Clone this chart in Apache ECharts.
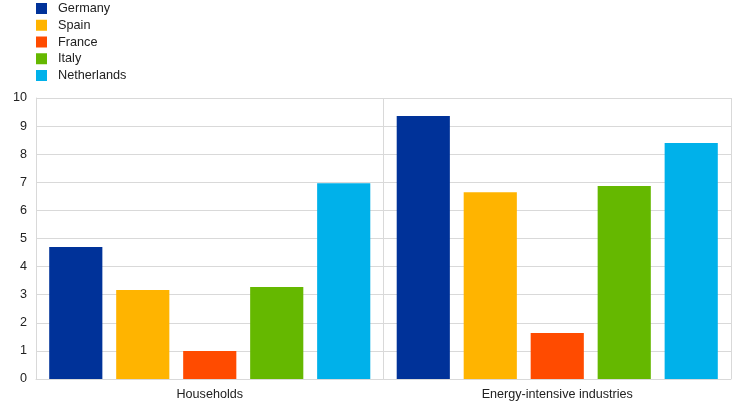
<!DOCTYPE html>
<html><head><meta charset="utf-8">
<script src="https://cdn.jsdelivr.net/npm/echarts@6/dist/echarts.min.js"></script>
<style>html,body{margin:0;padding:0;background:#fff}#c{width:744px;height:406px}</style>
</head><body><div id="c"></div>
<script>
const categories = ['Households', 'Energy-intensive industries'];
const seriesNames = ['Germany', 'Spain', 'France', 'Italy', 'Netherlands'];
const germany = [4.70, 9.36];
const spain = [3.17, 6.65];
const france = [1.00, 1.64];
const italy = [3.27, 6.87];
const netherlands = [6.97, 8.40];
const colors = ['#003299', '#ffb400', '#ff4b00', '#65b800', '#00b1ea'];
const values = [germany, spain, france, italy, netherlands];

const chart = echarts.init(document.getElementById('c'), null, {renderer: 'canvas'});
chart.setOption({
  animation: false,
  textStyle: {fontFamily: 'Liberation Sans, Arial, sans-serif'},
  legend: {
    orient: 'vertical', left: 36, top: 2, padding: 0, itemWidth: 11, itemHeight: 11, itemGap: 3.75,
    icon: 'rect', textStyle: {fontSize: 12.7, color: '#222', padding: [0,0,0,6]},
    data: seriesNames
  },
  grid: {left: 36, right: 13, top: 98, bottom: 27},
  xAxis: {
    type: 'category', data: categories, boundaryGap: true,
    axisLine: {show: true, lineStyle: {color: '#d9d9d9'}},
    axisTick: {show: false},
    splitLine: {show: true, lineStyle: {color: '#d9d9d9'}},
    axisLabel: {fontSize: 12.6, color: '#222', margin: 9}
  },
  yAxis: {
    type: 'value', min: 0, max: 10, interval: 1,
    axisLine: {show: true, lineStyle: {color: '#d9d9d9'}},
    axisTick: {show: false},
    splitLine: {show: true, lineStyle: {color: '#d9d9d9'}},
    axisLabel: {fontSize: 12.6, color: '#222', margin: 9}
  },
  series: seriesNames.map((n, i) => ({
    name: n, type: 'bar', data: values[i], itemStyle: {color: colors[i]},
    barGap: '26%', barCategoryGap: '7.6%'
  }))
});
</script></body></html>
